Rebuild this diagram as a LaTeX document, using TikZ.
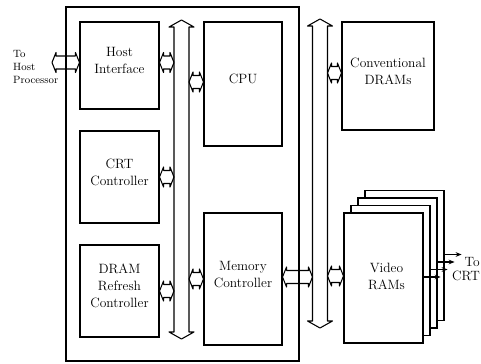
\documentclass[tikz,border=0pt]{standalone}
\usepackage{tikz}
\usetikzlibrary{arrows.meta,calc,fit}

% short fat two-way link between a block and a bus
\newcommand{\busconn}[2]{%
  \path #1 coordinate (ca) #2 coordinate (cb);
  \draw[conn] (ca) -- ($(ca)+(4,-10)$) -- ($(ca)+(4,-6.5)$) -- ($(cb)+(-4,-6.5)$)
    -- ($(cb)+(-4,-10)$) -- (cb) -- ($(cb)+(-4,10)$) -- ($(cb)+(-4,6.5)$)
    -- ($(ca)+(4,6.5)$) -- ($(ca)+(4,10)$) -- cycle;}
% vertical bus, arrow heads at both ends
\newcommand{\vbus}[2]{%
  \draw[conn] (#1) -- ($(#1)+(12.5,7)$) -- ($(#1)+(7.5,7)$) -- ($(#2)+(7.5,-7)$)
    -- ($(#2)+(12.5,-7)$) -- (#2) -- ($(#2)+(-12.5,-7)$) -- ($(#2)+(-7.5,-7)$)
    -- ($(#1)+(-7.5,7)$) -- ($(#1)+(-12.5,7)$) -- cycle;}

\begin{document}
\begin{tikzpicture}[x=0.3mm,y=-0.3mm,
  blk/.style={draw,line width=0.9pt,inner sep=0pt,align=center,
    font=\fontsize{11.5}{14.5}\selectfont},
  conn/.style={draw,line width=0.9pt,line join=round},
  lbl/.style={inner sep=0pt,font=\fontsize{9}{11.5}\selectfont}]
\useasboundingbox (0,0) rectangle (481,364);

\draw[line width=0.9pt] (66,7) rectangle (299,361);

\coordinate (ibusT) at (181.5,20);
\coordinate (ibusB) at (181.5,339);
\coordinate (obusT) at (320,19);
\coordinate (obusB) at (320,328);
\coordinate (ibusW) at (174,0);
\coordinate (ibusE) at (189,0);
\coordinate (obusW) at (312.5,0);
\coordinate (obusE) at (327.5,0);
\vbus{ibusT}{ibusB}
\vbus{obusT}{obusB}

\node[blk,fit={(80,22) (159,109)}] (host) {Host\\Interface};
\node[blk,fit={(80,131) (159,223)}] (crt) {CRT\\Controller};
\node[blk,fit={(80,245) (159,337)}] (refresh) {DRAM\\Refresh\\Controller};
\node[blk,fit={(204,22) (282,146)}] (cpu) {CPU};
\node[blk,fit={(204,213) (282,345)}] (memctl) {Memory\\Controller};
\node[blk,fit={(342,22) (434,130)}] (dram) {Conventional\\DRAMs};
\foreach \i in {3,2,1,0}
  \node[blk,fill=white,fit={({344+7*\i},{213-7.5*\i}) ({423+7*\i},{343-7.5*\i})}] (vram\i) {};
\node[align=center,font=\fontsize{11.5}{14.5}\selectfont] (vtext) at ($(vram0)+(3,-2)$) {Video\\RAMs};

% link heights
\coordinate (hostE) at ($(host.east)+(0,-3)$);
\coordinate (hostW) at ($(host.west)+(0,-3)$);
\coordinate (cpuW) at ($(cpu.west)+(0,-2)$);
\coordinate (memE) at ($(memctl.east)+(0,-2)$);
\coordinate (dramW) at ($(dram.west)+(0,-3)$);
\coordinate (vramW) at ($(vram0.west)+(0,-2)$);
\coordinate (hostp) at (hostW -| 52,0);

\node[lbl,anchor=west,align=left] (hplbl) at (13,67) {To\\Host\\Processor};
\busconn{(hostp)}{(hostW)}
\busconn{(hostE)}{(hostE -| ibusW)}
\busconn{(crt.east)}{(crt.east -| ibusW)}
\busconn{(refresh.east)}{(refresh.east -| ibusW)}
\busconn{(cpuW -| ibusE)}{(cpuW)}
\busconn{(memctl.west -| ibusE)}{(memctl.west)}
\busconn{(memE)}{(memE -| obusW)}
\busconn{(dramW -| obusE)}{(dramW)}
\busconn{(vramW -| obusE)}{(vramW)}

\foreach \i in {0,1,2,3}
  \draw[line width=0.9pt,-{Stealth[length=5pt,width=4pt]}] ($(vram\i.east)+(0,-1)$) -- ++(17,0);
\node[anchor=east,align=right,inner sep=0pt,font=\fontsize{11.5}{12.5}\selectfont] (tocrt) at (480,269) {To\\CRT};
\end{tikzpicture}
\end{document}
